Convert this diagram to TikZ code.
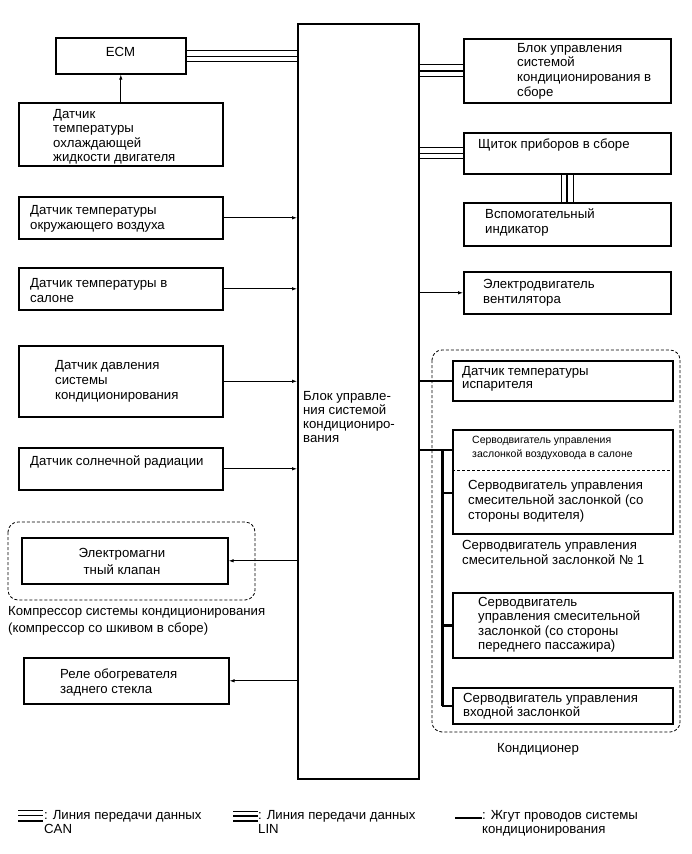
\documentclass[tikz,border=0pt]{standalone}
\usepackage{fontspec}
\setmainfont{Liberation Sans}
\usetikzlibrary{arrows.meta,calc}
\begin{document}
\begin{tikzpicture}[x=1pt,y=-1pt,
  box/.style={draw, line width=1.6pt, anchor=north west, inner sep=0pt},
  txt/.style={anchor=north west, align=left, inner sep=0pt, font=\fontsize{13.2}{15}\selectfont},
  smalltxt/.style={anchor=north west, align=left, inner sep=0pt, font=\fontsize{10.5}{14}\selectfont},
  arr/.style={line width=0.8pt, -{Latex[length=5pt,width=3.5pt]}},
  harness/.style={line width=2.6pt},
  grp/.style={draw, line width=0.8pt, rounded corners=10pt, dash pattern=on 3pt off 2pt},
  thinl/.style={line width=0.8pt},
  midl/.style={line width=0.5pt},
  thickl/.style={line width=2pt}
]
\useasboundingbox (0,0) rectangle (691,854);

% central unit
\node[box, minimum width=121pt, minimum height=755pt] (cbu) at (297,23) {};
\node[txt, font=\fontsize{13.2}{14}\selectfont] (cbut) at (303,391) {Блок управле-\\ния системой\\кондициониро-\\вания};

% left column
\node[box, minimum width=130pt, minimum height=36pt] (ecm) at (55,37) {};
\node[txt, anchor=center] (ecmt) at (120.5,52) {ECM};
\node[box, minimum width=204pt, minimum height=63pt] (cool) at (18,102) {};
\node[txt, font=\fontsize{13.2}{14.4}\selectfont] (coolt) at (53,109) {Датчик\\температуры\\охлаждающей\\жидкости двигателя};
\node[box, minimum width=204pt, minimum height=42pt] (amb) at (18,196) {};
\node[txt] (ambt) at (30,205) {Датчик температуры\\окружающего воздуха};
\node[box, minimum width=204pt, minimum height=42pt] (cab) at (18,267) {};
\node[txt] (cabt) at (30,278) {Датчик температуры в\\салоне};
\node[box, minimum width=204pt, minimum height=71pt] (pres) at (18,345) {};
\node[txt] (prest) at (55,360) {Датчик давления\\системы\\кондиционирования};
\node[box, minimum width=204pt, minimum height=42pt] (sol) at (18,447) {};
\node[txt] (solt) at (30,455) {Датчик солнечной радиации};

\draw[grp] (8,522) rectangle (255,600);
\node[box, minimum width=206pt, minimum height=46pt] (valve) at (21,537) {};
\node[txt, align=center, anchor=north, font=\fontsize{13.2}{17}\selectfont] (valvet) at (122,548) {Электромагни\\тный клапан};
\node[txt, font=\fontsize{13.2}{17}\selectfont] (compt) at (8,606) {Компрессор системы кондиционирования\\(компрессор со шкивом в сборе)};

\node[box, minimum width=205pt, minimum height=46pt] (relay) at (23,657) {};
\node[txt] (relayt) at (60,669) {Реле обогревателя\\заднего стекла};

% right column
\node[box, minimum width=207pt, minimum height=64pt] (acc) at (463,38) {};
\node[txt, font=\fontsize{13.2}{14.6}\selectfont] (acct) at (517,43) {Блок управления\\системой\\кондиционирования в\\сборе};
\node[box, minimum width=207pt, minimum height=41pt] (clu) at (463,132) {};
\node[txt] (clut) at (478,139) {Щиток приборов в сборе};
\node[box, minimum width=207pt, minimum height=43pt] (ind) at (463,202) {};
\node[txt] (indt) at (485,208) {Вспомогательный\\индикатор};
\node[box, minimum width=207pt, minimum height=42pt] (blo) at (463,271) {};
\node[txt] (blot) at (483,279) {Электродвигатель\\вентилятора};

\draw[grp] (432,350) rectangle (680,732);
\node[box, minimum width=220pt, minimum height=40pt] (evap) at (452,360) {};
\node[txt, font=\fontsize{13.2}{13.5}\selectfont] (evapt) at (462,366) {Датчик температуры\\испарителя};
\node[box, minimum width=220pt, minimum height=104pt] (servo) at (452,429) {};
\draw[line width=0.8pt, dash pattern=on 3pt off 2pt] (servo.west |- 0,470) coordinate (dv1) -- (dv1 -| servo.east);
\node[smalltxt] (servot1) at (472,436) {Серводвигатель управления\\заслонкой воздуховода в салоне};
\node[txt] (servot2) at (468,480) {Серводвигатель управления\\смесительной заслонкой (со\\стороны водителя)};
\node[txt] (servot3) at (462,540) {Серводвигатель управления\\смесительной заслонкой № 1};
\node[box, minimum width=220pt, minimum height=65pt] (pass) at (452,592) {};
\node[txt, font=\fontsize{13.2}{14.4}\selectfont] (passt) at (478,597) {Серводвигатель\\управления смесительной\\заслонкой (со стороны\\переднего пассажира)};
\node[box, minimum width=220pt, minimum height=36pt] (intk) at (452,687) {};
\node[txt, font=\fontsize{13.2}{14.4}\selectfont] (intkt) at (463,693) {Серводвигатель управления\\входной заслонкой};
\node[txt] (acname) at (497,743) {Кондиционер};

% connectors: sensors to central
\draw[arr] (cool.north -| ecm.south) -- (ecm.south);
\draw[arr] (amb.east) -- (amb.east -| cbu.west);
\draw[arr] (cab.east) -- (cab.east -| cbu.west);
\draw[arr] (pres.east) -- (pres.east -| cbu.west);
\draw[arr] (sol.east) -- (sol.east -| cbu.west);
\draw[arr] (cbu.west |- valve.east) -- (valve.east);
\draw[arr] (cbu.west |- relay.east) -- (relay.east);
\draw[arr] (cbu.east |- blo.west) -- (blo.west);

% CAN: ECM and cluster
\foreach \d/\s in {5.5/thinl, 0/midl, -5.5/thinl}{
  \draw[\s] ([yshift=\d pt]ecm.east) -- ([yshift=\d pt]ecm.east -| cbu.west);
  \draw[\s] ([yshift=\d pt]cbu.east |- clu.west) -- ([yshift=\d pt]clu.west);
}
% LIN: A/C control and indicator
\foreach \d/\s in {6/thinl, 0/thickl, -6/thinl}{
  \draw[\s] ([yshift=\d pt]cbu.east |- acc.west) -- ([yshift=\d pt]acc.west);
  \draw[\s] ([xshift=\d pt]clu.south) -- ([xshift=\d pt]ind.north);
}

% harness
\draw[harness] (cbu.east |- evap.west) -- (evap.west);
\coordinate (bt) at (442,450);
\coordinate (b1) at (442,493);
\draw[harness] (cbu.east |- bt) -- (bt -| servo.west);
\draw[harness, line width=3pt] (bt) -- (bt |- intk.west);
\draw[harness] (bt |- intk.west) -- (intk.west);
\draw[harness] (b1) -- (b1 -| servo.west);
\draw[harness] (bt |- pass.west) -- (pass.west);

% legend
\coordinate (lc) at (18,815);
\draw[thinl] ($(lc)+(0,-5)$) -- ++(25,0);
\draw[midl] (lc) -- ++(25,0);
\draw[line width=1.1pt] ($(lc)+(0,6)$) -- ++(25,0);
\node[txt, font=\fontsize{13.2}{14}\selectfont] (lgcan) at (44,810) {: Линия передачи данных\\CAN};
\coordinate (ll) at (233,816);
\draw[line width=1pt] ($(ll)+(0,-5)$) -- ++(25,0);
\draw[thickl] (ll) -- ++(25,0);
\draw[line width=1.4pt] ($(ll)+(0,5)$) -- ++(25,0);
\node[txt, font=\fontsize{13.2}{14}\selectfont] (lglin) at (258,810) {: Линия передачи данных\\LIN};
\coordinate (lh) at (455,818);
\draw[harness] (lh) -- ++(27,0);
\node[txt, font=\fontsize{13.2}{14}\selectfont] (lgh) at (482,810) {: Жгут проводов системы\\кондиционирования};
\end{tikzpicture}
\end{document}
